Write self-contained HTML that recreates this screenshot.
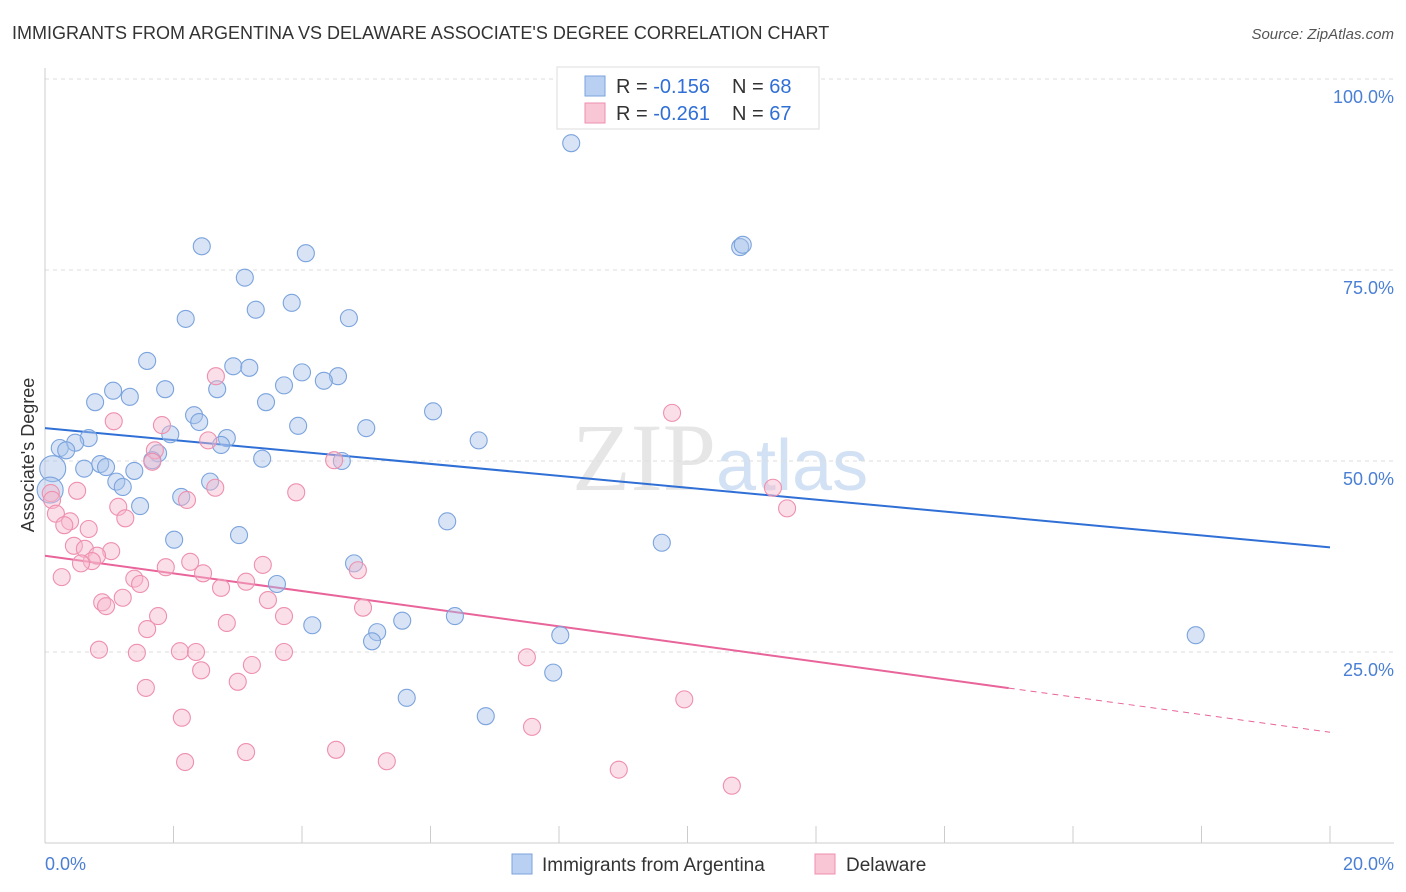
<!DOCTYPE html>
<html><head><meta charset="utf-8"><style>
body{margin:0;background:#fff;font-family:"Liberation Sans",sans-serif;}
#wrap{position:relative;width:1406px;height:892px;overflow:hidden}
</style></head><body>
<div id="wrap">
<svg id="svg" width="1406" height="892" xmlns="http://www.w3.org/2000/svg">
<text x="12" y="39" font-size="18" fill="#333">IMMIGRANTS FROM ARGENTINA VS DELAWARE ASSOCIATE'S DEGREE CORRELATION CHART</text>
<text x="1394" y="39" font-size="15" fill="#555" text-anchor="end" font-style="italic">Source: ZipAtlas.com</text>
<text x="716" y="490" font-size="96" fill="#e6e6e6" text-anchor="end" font-family="Liberation Serif">ZIP</text>
<text x="716" y="490" font-size="72" fill="#d3e1f4">atlas</text>
<g id="grid"></g><g id="axes"></g><g id="lines"></g><g id="pts"></g>
<text transform="translate(34,455) rotate(-90)" font-size="18" fill="#333" text-anchor="middle">Associate's Degree</text>
<text x="45" y="870" font-size="18" fill="#4a7fd4">0.0%</text>
<text x="1394" y="870" font-size="18" fill="#4a7fd4" text-anchor="end">20.0%</text>
<g>
<rect x="557" y="67" width="262" height="62" fill="#fff" stroke="#ddd"/>
<rect x="585" y="76" width="20" height="20" fill="#b9d0f2" stroke="#7ba3dd"/>
<rect x="585" y="103" width="20" height="20" fill="#f9c6d6" stroke="#ee8fae"/>
<text x="616" y="93" font-size="20" fill="#333">R = <tspan fill="#2f6fd6">-0.156</tspan></text>
<text x="732" y="93" font-size="20" fill="#333">N = <tspan fill="#2f6fd6">68</tspan></text>
<text x="616" y="120" font-size="20" fill="#333">R = <tspan fill="#2f6fd6">-0.261</tspan></text>
<text x="732" y="120" font-size="20" fill="#333">N = <tspan fill="#2f6fd6">67</tspan></text>
</g>
<g>
<rect x="512" y="854" width="20" height="20" fill="#b9d0f2" stroke="#7ba3dd"/>
<text x="542" y="871" font-size="19" fill="#333">Immigrants from Argentina</text>
<rect x="815" y="854" width="20" height="20" fill="#f9c6d6" stroke="#ee8fae"/>
<text x="846" y="871" font-size="19" fill="#333">Delaware</text>
</g>
</svg>
</div>
<script>
const yTicks=[25,50,75,100];
const xTicks=[0,2,4,6,8,10,12,14,16,18,20];
const blueX=[8.19,2.44,4.06,10.82,10.86,3.11,3.84,3.28,2.19,4.73,1.59,2.93,3.18,4.0,4.56,4.34,3.72,1.06,1.87,2.68,1.32,0.78,3.44,6.04,2.32,2.40,3.94,5.0,1.95,0.68,2.83,6.75,0.47,2.74,0.23,0.33,1.76,1.67,3.38,4.62,0.86,0.95,0.12,0.61,1.39,1.11,1.21,2.57,0.08,2.12,1.48,6.26,3.02,2.01,9.6,4.81,3.61,6.38,5.56,4.16,5.17,5.09,8.02,17.91,7.91,5.63,6.86];
const blueY=[91.6,78.1,77.2,78.0,78.3,74.0,70.7,69.8,68.6,68.7,63.1,62.4,62.2,61.6,61.1,60.5,59.9,59.2,59.4,59.4,58.4,57.7,57.7,56.5,56.0,55.1,54.6,54.3,53.5,53.0,53.0,52.7,52.4,52.1,51.7,51.4,51.0,50.1,50.3,50.0,49.6,49.2,49.0,49.0,48.7,47.3,46.6,47.3,46.2,45.3,44.1,42.1,40.3,39.7,39.3,36.6,33.9,29.7,29.1,28.5,27.6,26.4,27.2,27.2,22.3,19.0,16.6];
const pinkX=[2.66,9.76,1.07,1.82,2.54,1.71,1.67,4.5,2.65,11.33,0.5,3.91,0.09,0.11,2.21,1.14,11.55,0.17,1.25,0.39,0.30,0.68,0.45,1.03,0.62,0.81,0.73,0.56,2.26,3.39,1.88,4.87,2.46,0.26,1.39,1.48,3.13,2.74,1.21,0.89,0.95,3.47,4.95,1.76,3.72,2.83,1.59,0.84,1.43,2.10,2.35,3.72,7.5,3.22,2.43,3.0,1.57,9.95,2.13,7.58,3.13,4.53,2.18,5.32,8.93,10.69];
const pinkY=[61.1,56.3,55.2,54.7,52.7,51.4,49.9,50.1,46.5,46.5,46.1,45.9,45.8,44.9,44.9,44.0,43.8,43.1,42.5,42.1,41.6,41.1,38.9,38.2,38.5,37.6,36.9,36.6,36.8,36.4,36.1,35.7,35.3,34.8,34.6,33.9,34.2,33.4,32.1,31.5,31.0,31.8,30.8,29.7,29.7,28.8,28.0,25.3,24.9,25.1,25.0,25.0,24.3,23.3,22.6,21.1,20.3,18.8,16.4,15.2,11.9,12.2,10.6,10.7,9.6,7.5];
const blueBig=[42,48];
const blueTrend=[54.3,38.7];
const pinkTrend=[37.6,14.5];
const pinkSolidEnd=15;
const NS="http://www.w3.org/2000/svg";
const X=v=>45+v*64.25, Y=v=>843-v*7.64;
function mk(t,a,p){const e=document.createElementNS(NS,t);for(const k in a)e.setAttribute(k,a[k]);p.appendChild(e);return e;}
const grid=document.getElementById('grid'),axes=document.getElementById('axes'),lines=document.getElementById('lines'),pts=document.getElementById('pts');
yTicks.forEach(t=>{
 const l=mk('line',{x1:45,x2:1394,y1:Y(t),y2:Y(t),stroke:'#ddd','stroke-dasharray':'4,4'},grid);
 
 
 const tx=mk('text',{x:1394,y:Y(t)+24,'font-size':18,fill:'#4a7fd4','text-anchor':'end'},grid);
 tx.textContent=t.toFixed(1)+'%';
 
 
});
mk('line',{x1:45,x2:1394,y1:843,y2:843,stroke:'#ccc'},axes);
mk('line',{x1:45,x2:45,y1:68,y2:843,stroke:'#ccc'},axes);
xTicks.forEach(t=>{
 const l=mk('line',{x1:X(t),x2:X(t),y1:826,y2:843,stroke:'#ccc'},axes);
 
 
});
function series(xs,ys,fill,stroke,name,big){
 xs.forEach((x,i)=>{
  const c=mk('circle',{cx:X(x),cy:Y(ys[i]),r:(big&&big.includes(i))?13:8.5,fill:fill,'fill-opacity':0.45,stroke:stroke,'stroke-width':1.1},pts);
  
  
 });
}
series(blueX,blueY,'#a8c4ec','#7ba3dd','argentina-point',blueBig);
series(pinkX,pinkY,'#f7b9cc','#ee8fae','delaware-point',null);
const bl=mk('line',{x1:X(0),y1:Y(blueTrend[0]),x2:X(20),y2:Y(blueTrend[1]),stroke:'#2f6fd6','stroke-width':2},lines);


const pm=pinkTrend[0]+(pinkTrend[1]-pinkTrend[0])*pinkSolidEnd/20;
const pl=mk('line',{x1:X(0),y1:Y(pinkTrend[0]),x2:X(pinkSolidEnd),y2:Y(pm),stroke:'#e8649a','stroke-width':2},lines);


const pd=mk('line',{x1:X(pinkSolidEnd),y1:Y(pm),x2:X(20),y2:Y(pinkTrend[1]),stroke:'#e8649a','stroke-width':1,'stroke-dasharray':'6,5'},lines);


</script>
</body></html>
